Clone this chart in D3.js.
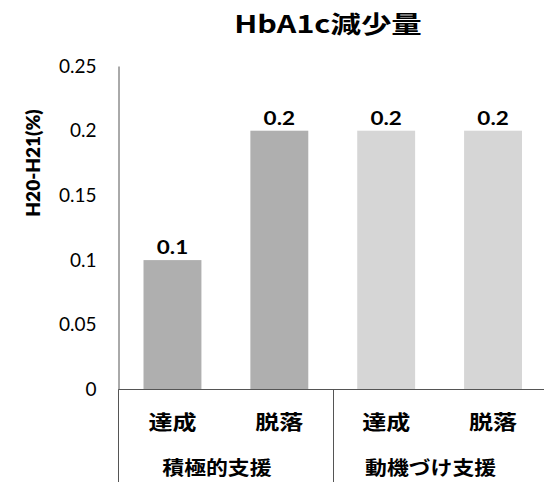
<!DOCTYPE html>
<html>
<head>
<meta charset="utf-8">
<script src="https://cdn.jsdelivr.net/npm/d3@7"></script>
<style>
  body { margin: 0; background: #fff; }
  svg { display: block; }
</style>
</head>
<body>
<svg id="chart" width="544" height="482"></svg>
<script>
// Chart content
const title = "HbA1c減少量";
const yLabel = "H20-H21(%)";
const categories = ["達成", "脱落", "達成", "脱落"];
const groups = ["積極的支援", "動機づけ支援"];
const groupOf = [0, 0, 1, 1];
const values = [0.1, 0.2, 0.2, 0.2];
const valueLabels = ["0.1", "0.2", "0.2", "0.2"];
const yTicks = [0, 0.05, 0.1, 0.15, 0.2, 0.25];
const yTickLabels = ["0", "0.05", "0.1", "0.15", "0.2", "0.25"];
const groupColors = ["#afafaf", "#d6d6d6"];

const W = 544, H = 482;
const jpFont = "'Noto Sans CJK JP', sans-serif";
const numFont = "Lato, 'Open Sans', sans-serif";
const axisColor = "#555";

const svg = d3.select("#chart");

const x = d3.scaleBand()
  .domain(d3.range(categories.length))
  .range([118.5, 547])
  .paddingInner(0.458)
  .paddingOuter(0.234);

const y = d3.scaleLinear()
  .domain([0, 0.25])
  .range([389.5, 66]);

// Text helper: places a label at (cx, cy) with a horizontal stretch factor
function label(g, txt, cx, cy, opts) {
  return g.append("text")
    .attr("transform", `translate(${cx},${cy}) scale(${opts.sx || 1},1)`)
    .attr("text-anchor", opts.anchor || "middle")
    .attr("dominant-baseline", opts.baseline || "central")
    .attr("font-family", opts.font)
    .attr("font-size", opts.size)
    .attr("font-weight", opts.weight || 400)
    .attr("fill", "#000")
    .text(txt);
}

// Bars
svg.append("g").selectAll("rect")
  .data(values)
  .join("rect")
  .attr("x", (d, i) => x(i))
  .attr("width", x.bandwidth())
  .attr("y", d => y(d))
  .attr("height", d => y(0) - y(d))
  .attr("fill", (d, i) => groupColors[groupOf[i]]);

// Y axis
const yAxis = svg.append("g")
  .attr("transform", "translate(118.5,0)")
  .call(d3.axisLeft(y)
    .tickValues(yTicks)
    .tickFormat((d, i) => yTickLabels[i])
    .tickSize(0)
    .tickSizeOuter(0)
    .tickPadding(22));
yAxis.select(".domain").attr("stroke", axisColor);
yAxis.selectAll(".tick text")
  .attr("font-family", numFont)
  .attr("font-size", 19)
  .attr("fill", "#000");

// Axis line continues down through the category label area
svg.append("line")
  .attr("x1", 118.5).attr("x2", 118.5)
  .attr("y1", y(0)).attr("y2", H)
  .attr("stroke", axisColor);

// Baseline
svg.append("line")
  .attr("x1", 118.5).attr("x2", W)
  .attr("y1", y(0)).attr("y2", y(0))
  .attr("stroke", axisColor);

// Divider between the two groups
const divX = Math.round((x(1) + x.bandwidth() + x(2)) / 2) + 0.5;
svg.append("line")
  .attr("x1", divX).attr("x2", divX)
  .attr("y1", y(0)).attr("y2", H)
  .attr("stroke", axisColor);

const labels = svg.append("g");

// Value labels above bars
values.forEach((v, i) => {
  label(labels, valueLabels[i], x(i) + x.bandwidth() / 2, y(v) - 6,
    { font: numFont, size: 18, weight: 700, sx: 1.25, baseline: "auto" });
});

// Category labels
categories.forEach((c, i) => {
  label(labels, c, x(i) + x.bandwidth() / 2, 421,
    { font: jpFont, size: 20, weight: 700, sx: 1.2 });
});

// Group labels
groups.forEach((gname, gi) => {
  const idx = d3.range(categories.length).filter(i => groupOf[i] === gi);
  const cx = d3.mean(idx, i => x(i) + x.bandwidth() / 2);
  label(labels, gname, cx - 9, 467,
    { font: jpFont, size: 19, weight: 700, sx: 1.15 });
});

// Title
label(labels, title, 328, 23,
  { font: jpFont, size: 24, weight: 700, sx: 1.27 });

// Y axis title
labels.append("text")
  .attr("transform", "translate(32,163) rotate(-90)")
  .attr("text-anchor", "middle")
  .attr("dominant-baseline", "central")
  .attr("font-family", numFont)
  .attr("font-size", 19)
  .attr("font-weight", 800)
  .attr("fill", "#000")
  .text(yLabel);
</script>
</body>
</html>
